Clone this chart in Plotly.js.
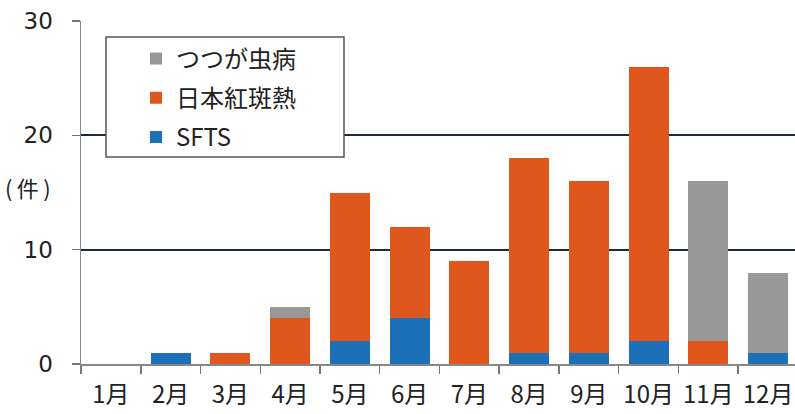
<!DOCTYPE html>
<html>
<head>
<meta charset="utf-8">
<script src="https://cdn.plot.ly/plotly-3.0.1.min.js"></script>
<style>html,body{margin:0;padding:0;background:#fff;}#chart{width:795px;height:414px;}</style>
</head>
<body>
<div id="chart"></div>
<script>
var months = ["1月","2月","3月","4月","5月","6月","7月","8月","9月","10月","11月","12月"];
var sfts =        [0,1,0,0,2,4,0,1,1,2,0,1];
var kouhannetsu = [0,0,1,4,13,8,9,17,15,24,2,0];
var tsutsugamushi=[0,0,0,1,0,0,0,0,0,0,14,7];
var yTicks = [0,10,20,30];
var unitLabel = "(\u2009件\u2009)";

var FONT = "Noto Sans CJK JP, Noto Sans, sans-serif";

var traces = [
  {type:"bar", name:"SFTS", x:months, y:sfts, marker:{color:"#1b70b8"}, legendgroup:"a", legendrank:3},
  {type:"bar", name:"日本紅斑熱", x:months, y:kouhannetsu, marker:{color:"#e0571d"}, legendgroup:"b", legendrank:2},
  {type:"bar", name:"つつが虫病", x:months, y:tsutsugamushi, marker:{color:"#989898"}, legendgroup:"c", legendrank:1}
];

var layout = {
  width:795, height:414,
  margin:{l:81, r:0, t:21, b:50, pad:0},
  barmode:"stack",
  bargap:0.33,
  paper_bgcolor:"#fff", plot_bgcolor:"#fff",
  font:{family:FONT, size:22, color:"#222"},
  showlegend:true,
  legend:{
    x:(136-81)/714, y:0.955, xanchor:"left", yanchor:"top",
    traceorder:"grouped",
    tracegroupgap:5,
    bgcolor:"rgba(0,0,0,0)", borderwidth:0,
    font:{family:FONT, size:24, color:"#222"}
  },
  xaxis:{
    type:"category",
    range:[-0.5, 11.45],
    tickson:"boundaries",
    tickangle:0,
    ticks:"outside", ticklen:8, tickcolor:"#777", tickwidth:1.5,
    showline:true, linecolor:"#888", linewidth:1.5,
    showgrid:false, zeroline:false,
    ticklabelstandoff:9,
    tickfont:{family:FONT, size:24, color:"#222"},
    fixedrange:true
  },
  yaxis:{
    range:[0,30],
    tickvals:yTicks,
    ticktext:yTicks.map(String),
    ticks:"outside", ticklen:8, tickcolor:"#777", tickwidth:1.5,
    showline:true, linecolor:"#888", linewidth:1.5,
    showgrid:true, gridcolor:"#1e2a38", gridwidth:2,
    zeroline:false,
    ticklabelstandoff:14,
    tickfont:{family:"DejaVu Sans, sans-serif", size:23, color:"#222"},
    fixedrange:true
  },
  shapes:[
    {type:"rect", xref:"paper", yref:"paper", x0:(106-81)/714, x1:(344-81)/714, y0:(364-157)/343, y1:(364-37)/343,
     line:{color:"#555", width:1.5}, fillcolor:"#fff", layer:"above"}
  ],
  annotations:[
    {text:unitLabel, xref:"paper", yref:"paper", x:(28-81)/714, y:(364-187)/343, xanchor:"center", yanchor:"middle",
     showarrow:false, font:{family:FONT, size:22, color:"#222"}}
  ]
};

Plotly.newPlot("chart", traces, layout, {displayModeBar:false, staticPlot:true});
</script>
</body>
</html>
